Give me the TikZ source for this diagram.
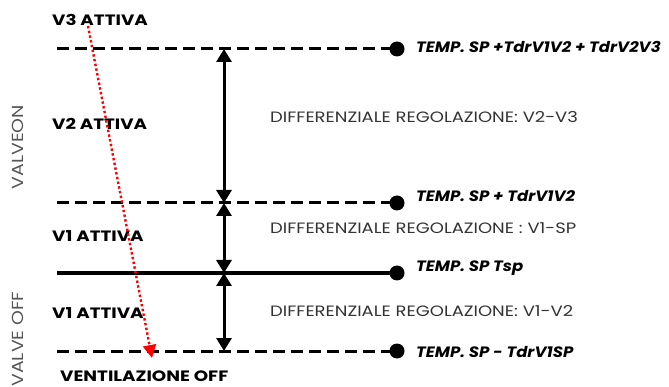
\documentclass[tikz,border=0pt]{standalone}
\usepackage{fontspec}
\setmainfont{Poppins}
\usetikzlibrary{arrows.meta}
\definecolor{txtgray}{HTML}{333333}
\definecolor{sidegray}{HTML}{555555}
\begin{document}
\begin{tikzpicture}[x=1pt,y=-1pt,
  lvldash/.style={line width=3pt, dash pattern=on 11.5pt off 6.5pt},
  lvlsolid/.style={line width=3.5pt},
  dotnode/.style={circle, fill=black, inner sep=0pt, minimum size=15pt},
  vlab/.style={anchor=west, font=\fontsize{15}{17}\selectfont\bfseries\addfontfeature{FakeStretch=1.22}, inner sep=0pt},
  tlab/.style={anchor=west, font=\fontsize{15}{17}\selectfont\bfseries\itshape\addfontfeature{FakeStretch=1.1}, inner sep=0pt},
  dlab/.style={anchor=west, font=\fontsize{15}{17}\selectfont\addfontfeature{FakeStretch=1.2}, text=txtgray, inner sep=0pt},
  slab/.style={rotate=90, font=\fontsize{16}{18}\selectfont\addfontfeature{FakeStretch=1.18}, text=sidegray, inner sep=0pt},
  varrow/.style={line width=3pt, {Triangle[length=13pt,width=15pt]}-{Triangle[length=13pt,width=15pt]}},
  redarrow/.style={red, line width=2.4pt, dash pattern=on 2.4pt off 2.4pt, -{Triangle[length=13pt,width=13pt]}}
]
\useasboundingbox (0,0) rectangle (669,387);

% level lines
\coordinate (s1) at (57,49);
\coordinate (s2) at (57,203);
\coordinate (s3) at (57,273);
\coordinate (s4) at (57,351);
\node[dotnode] (d1) at (397,49) {};
\node[dotnode] (d2) at (397,203) {};
\node[dotnode] (d3) at (397,273) {};
\node[dotnode] (d4) at (397,351) {};
\draw[lvldash] (s1) -- (d1.center);
\draw[lvldash] (s2) -- (d2.center);
\draw[lvlsolid] (s3) -- (d3.center);
\draw[lvldash] (s4) -- (d4.center);

% vertical arrows
\coordinate (t1) at (224,49);
\coordinate (t2) at (224,203);
\coordinate (t3) at (224,273);
\coordinate (t4) at (224,351);
\draw[varrow] (t1) -- (t2);
\draw[varrow] (t2) -- (t3);
\draw[varrow] (t3) -- (t4);

% right labels
\node[tlab] (r1) at (416,47) {TEMP. SP +TdrV1V2 + TdrV2V3};
\node[tlab] (r2) at (416,196) {TEMP. SP + TdrV1V2};
\node[tlab] (r3) at (416,268) {TEMP. SP Tsp};
\node[tlab] (r4) at (416,352) {TEMP. SP - TdrV1SP};

\node[dlab] (g1) at (270,117) {DIFFERENZIALE REGOLAZIONE: V2-V3};
\node[dlab] (g2) at (270,228) {DIFFERENZIALE REGOLAZIONE : V1-SP};
\node[dlab] (g3) at (270,311) {DIFFERENZIALE REGOLAZIONE: V1-V2};

% left labels
\node[vlab] (v3) at (52,20) {V3 ATTIVA};
\node[vlab] (v2) at (52,124) {V2 ATTIVA};
\node[vlab] (v1a) at (52,236) {V1 ATTIVA};
\node[vlab] (v1b) at (52,313) {V1 ATTIVA};
\node[vlab] (voff) at (60,376) {VENTILAZIONE OFF};

\node[slab] (son) at (18,147) {VALVEON};
\node[slab] (soff) at (18,339) {VALVE OFF};

% red arrow
\coordinate (rs) at (88,26);
\coordinate (re) at (152,358);
\draw[redarrow] (rs) -- (re);
\end{tikzpicture}
\end{document}
